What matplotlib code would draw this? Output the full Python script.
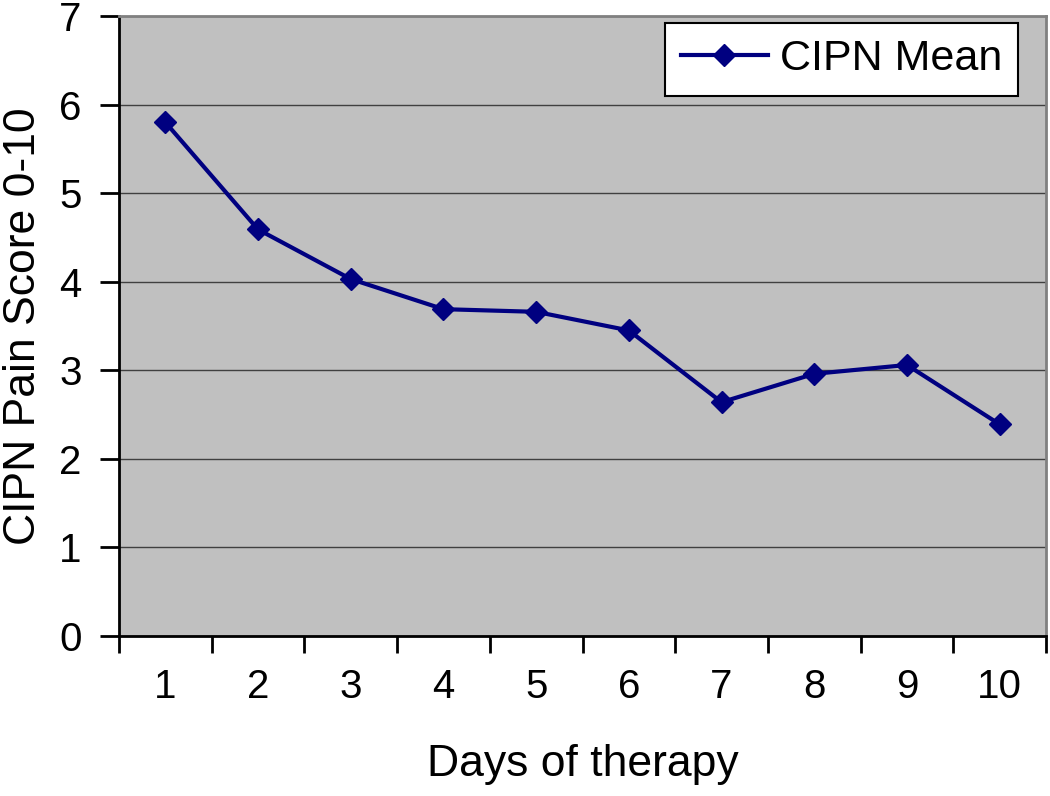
import matplotlib
matplotlib.use("Agg")
import matplotlib.pyplot as plt
import numpy as np

days = [1, 2, 3, 4, 5, 6, 7, 8, 9, 10]
cipn_mean = [5.80, 4.59, 4.03, 3.69, 3.66, 3.45, 2.64, 2.96, 3.06, 2.39]
y_ticks = [0, 1, 2, 3, 4, 5, 6, 7]

plt.rcParams['font.family'] = ['Liberation Sans', 'DejaVu Sans']

fig = plt.figure(figsize=(10.5, 7.96), dpi=100)
ax = fig.add_axes([119/1050, 1-636/796, (1046-119)/1050, (636-16)/796])
ax.set_facecolor('#C0C0C0')

ax.plot(days, cipn_mean, color='#000080', lw=3, marker='D', ms=11,
        markerfacecolor='#000080', markeredgecolor='#000080', label='CIPN Mean', zorder=3)

ax.set_xlim(0.5, 10.5)
ax.set_ylim(0, 7)
ax.set_yticks(y_ticks)
ax.yaxis.grid(True, color='#404040', lw=1)
ax.set_axisbelow(True)

ax.set_xticks(days)
ax.set_xticklabels([str(d) for d in days])
ax.set_xticks(np.arange(0.5, 11, 1), minor=True)
ax.tick_params(axis='x', which='major', length=0, pad=23, labelsize=29)
ax.tick_params(axis='x', which='minor', length=12, width=2, direction='out')
ax.tick_params(axis='y', length=14, width=2, direction='out', labelsize=29, pad=13)

for s in ['left', 'bottom']:
    ax.spines[s].set_color('black')
    ax.spines[s].set_linewidth(2)
for s in ['top', 'right']:
    ax.spines[s].set_color('#808080')
    ax.spines[s].set_linewidth(2)

ax.set_xlabel('Days of therapy', fontsize=32)
ax.xaxis.set_label_coords(0.5, -0.174)
ax.set_ylabel('CIPN Pain Score 0-10', fontsize=32)
ax.yaxis.set_label_coords(-0.081, 0.5)

leg = ax.legend(loc='upper right', fontsize=31, frameon=True, fancybox=False,
                edgecolor='black', facecolor='white', framealpha=1,
                handlelength=2.0, borderpad=0.38, handletextpad=0.28,
                bbox_to_anchor=(0.970, 0.9887), borderaxespad=0)
leg.get_frame().set_linewidth(1.5)

fig.savefig('out.png', dpi=100)
